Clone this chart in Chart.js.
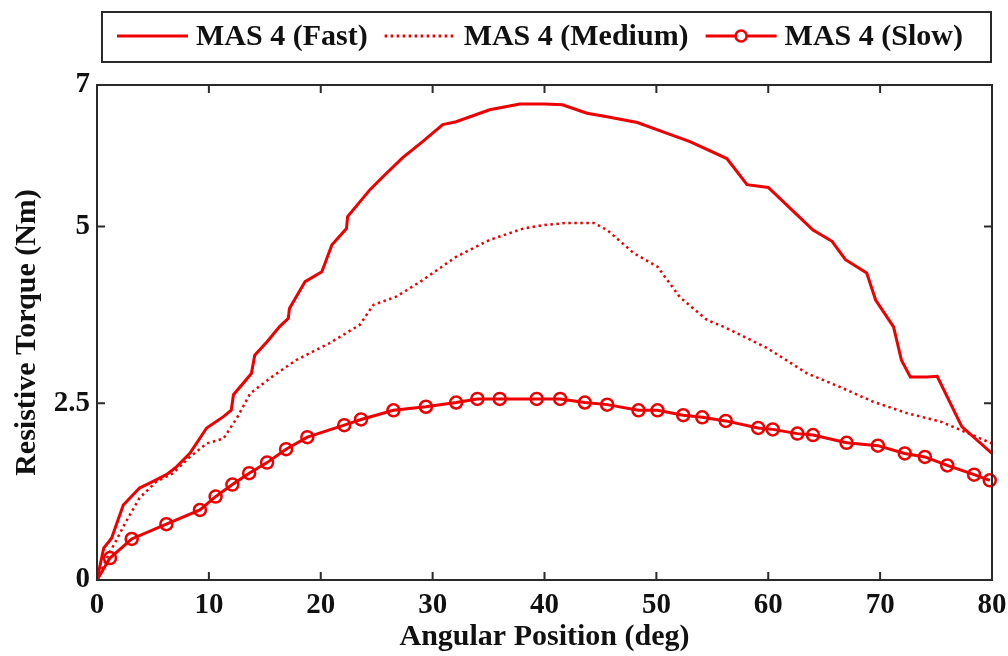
<!DOCTYPE html>
<html>
<head>
<meta charset="utf-8">
<script src="https://cdn.jsdelivr.net/npm/chart.js@4.4.1/dist/chart.umd.min.js"></script>
<style>
    html, body { margin: 0; padding: 0; background: #ffffff; }
    #torqueChart { display: block; }
</style>
</head>
<body>
<canvas id="torqueChart" width="1008" height="656"></canvas>
<script>
// Data (angle in deg, torque in Nm)
const seriesNames = ['MAS 4 (Fast)', 'MAS 4 (Medium)', 'MAS 4 (Slow)'];

const fastAngle = [0, 0.6, 1.3, 2.35, 3.8, 4.7, 6.2, 7.1, 8.3, 9.8, 11.3, 12.0, 12.2, 13.8, 14.1, 15.2, 16.3, 17.1, 17.2, 18.6,
    20.1, 21.0, 22.3, 22.4, 24.4, 25.6, 27.3, 29.1, 30.9, 32.1, 35.1, 37.8, 40, 41.6, 43.8, 45.6, 48.3, 50.9, 53.0, 56.3,
    58.1, 60.0, 62.6, 64.0, 65.7, 66.9, 68.8, 69.6, 71.2, 71.9, 72.7, 74.2, 75.1, 77.3, 80];
const fastTorque = [0, 0.45, 0.59, 1.06, 1.30, 1.37, 1.49, 1.60, 1.79, 2.15, 2.31, 2.40, 2.62, 2.92, 3.18, 3.37, 3.58, 3.70, 3.84, 4.22,
    4.36, 4.74, 4.97, 5.14, 5.52, 5.71, 5.97, 6.20, 6.44, 6.48, 6.65, 6.73, 6.73, 6.72, 6.60, 6.55, 6.47, 6.32, 6.20, 5.96,
    5.59, 5.55, 5.16, 4.95, 4.79, 4.53, 4.34, 3.96, 3.58, 3.11, 2.87, 2.87, 2.88, 2.17, 1.79];

const mediumAngle = [0, 1.0, 1.75, 2.5, 3.8, 5.3, 6.8, 8.3, 9.8, 11.3, 12.5, 13.7, 15.7, 17.8, 20.8, 23.5, 24.7, 26.8, 29.1, 32.1,
    35.1, 38.1, 40, 42.0, 44.4, 45.6, 48.0, 50.1, 52.1, 54.5, 56.3, 59.9, 63.5, 66.4, 69.4, 72.4, 75.4, 77.5, 80];
const mediumTorque = [0, 0.35, 0.57, 0.80, 1.16, 1.39, 1.51, 1.74, 1.93, 2.00, 2.29, 2.64, 2.88, 3.11, 3.35, 3.61, 3.89, 4.01, 4.24, 4.57,
    4.81, 4.97, 5.02, 5.05, 5.05, 4.95, 4.62, 4.43, 4.00, 3.68, 3.56, 3.28, 2.92, 2.73, 2.52, 2.36, 2.24, 2.10, 1.93];

const slowAngle = [0, 1.16, 3.1, 6.2, 9.2, 10.6, 12.1, 13.6, 15.2, 16.9, 18.8, 22.1, 23.6, 26.5, 29.4, 32.1, 34.0, 36.0, 39.3,
    41.4, 43.6, 45.6, 48.4, 50.1, 52.4, 54.1, 56.2, 59.1, 60.4, 62.6, 64.0, 67.0, 69.8, 72.2, 74.0, 76.0, 78.4, 79.8];
const slowTorque = [0, 0.31, 0.58, 0.79, 0.99, 1.18, 1.35, 1.51, 1.66, 1.85, 2.02, 2.19, 2.27, 2.40, 2.45, 2.51, 2.56, 2.56, 2.56,
    2.56, 2.51, 2.48, 2.40, 2.40, 2.33, 2.30, 2.25, 2.15, 2.13, 2.07, 2.05, 1.94, 1.90, 1.79, 1.74, 1.62, 1.49, 1.41];

const xTicks = [0, 10, 20, 30, 40, 50, 60, 70, 80];
const yTicks = [0, 2.5, 5, 7];

const RED = '#ee0000';
const FRAME = '#2a2a2a';
const FONT = '"Liberation Serif", "Times New Roman", serif';

const toPoints = (xs, ys) => xs.map((x, i) => ({ x: x, y: ys[i] }));

// box frame with inward ticks on all four sides
const framePlugin = {
    id: 'frame',
    afterDatasetsDraw(chart) {
        const { ctx, chartArea: a, scales } = chart;
        const len = 8;
        ctx.save();
        ctx.strokeStyle = FRAME;
        ctx.lineWidth = 2;
        ctx.strokeRect(a.left, a.top, a.right - a.left, a.bottom - a.top);
        ctx.beginPath();
        xTicks.forEach(v => {
            const px = scales.x.getPixelForValue(v);
            ctx.moveTo(px, a.bottom); ctx.lineTo(px, a.bottom - len);
            ctx.moveTo(px, a.top); ctx.lineTo(px, a.top + len);
        });
        yTicks.forEach(v => {
            const py = scales.y.getPixelForValue(v);
            ctx.moveTo(a.left, py); ctx.lineTo(a.left + len, py);
            ctx.moveTo(a.right, py); ctx.lineTo(a.right - len, py);
        });
        ctx.stroke();
        ctx.restore();
    }
};

// boxed legend above the plot, like the original figure
const boxLegend = {
    id: 'boxLegend',
    afterDraw(chart) {
        const ctx = chart.ctx;
        ctx.save();
        ctx.strokeStyle = FRAME;
        ctx.lineWidth = 2;
        ctx.strokeRect(102, 12, 889, 50);
        ctx.font = 'bold 30px ' + FONT;
        ctx.textBaseline = 'middle';
        ctx.fillStyle = '#111';
        const cy = 36;
        let x = 117;
        chart.data.datasets.forEach(ds => {
            ctx.strokeStyle = RED;
            ctx.lineWidth = 3;
            ctx.setLineDash(ds.borderDash || []);
            ctx.beginPath();
            ctx.moveTo(x, cy); ctx.lineTo(x + 71, cy);
            ctx.stroke();
            ctx.setLineDash([]);
            if (ds.label === seriesNames[2]) {
                ctx.lineWidth = 2.5;
                ctx.fillStyle = '#ffffff';
                ctx.beginPath();
                ctx.arc(x + 35.5, cy, 5.5, 0, Math.PI * 2);
                ctx.fill();
                ctx.stroke();
                ctx.fillStyle = '#111';
            }
            ctx.fillText(ds.label, x + 79, cy + 1);
            x += 79 + ctx.measureText(ds.label).width + 17;
        });
        ctx.restore();
    }
};

new Chart(document.getElementById('torqueChart'), {
    type: 'line',
    data: {
        datasets: [
            {
                label: seriesNames[0],
                data: toPoints(fastAngle, fastTorque),
                borderColor: RED,
                borderWidth: 3,
                pointRadius: 0,
                tension: 0
            },
            {
                label: seriesNames[1],
                data: toPoints(mediumAngle, mediumTorque),
                borderColor: RED,
                borderWidth: 2.5,
                borderDash: [2.5, 3.5],
                pointRadius: 0,
                tension: 0
            },
            {
                label: seriesNames[2],
                data: toPoints(slowAngle, slowTorque),
                borderColor: RED,
                borderWidth: 3,
                pointRadius: slowAngle.map((v, i) => i === 0 ? 0 : 6),
                pointBorderWidth: 2.5,
                pointBorderColor: RED,
                pointBackgroundColor: 'rgba(0,0,0,0)',
                tension: 0,
                clip: false
            }
        ]
    },
    options: {
        responsive: false,
        animation: false,
        layout: { padding: { top: 85, right: 16, left: 0, bottom: 0 } },
        plugins: {
            legend: { display: false },
            tooltip: { enabled: false }
        },
        scales: {
            x: {
                type: 'linear',
                min: 0,
                max: 80,
                grid: { display: false, drawTicks: false },
                border: { display: false },
                afterBuildTicks: s => { s.ticks = xTicks.map(v => ({ value: v })); },
                afterFit: s => { s.height = 76; s.paddingLeft = 0; s.paddingRight = 0; },
                ticks: {
                    color: '#111',
                    padding: 8,
                    maxRotation: 0,
                    font: { family: FONT, size: 29, weight: 'bold' }
                },
                title: {
                    display: true,
                    text: 'Angular Position (deg)',
                    color: '#111',
                    padding: { top: 0, bottom: 4 },
                    font: { family: FONT, size: 30, weight: 'bold', lineHeight: 1 }
                }
            },
            y: {
                min: 0,
                max: 7,
                grid: { display: false, drawTicks: false },
                border: { display: false },
                afterBuildTicks: s => { s.ticks = yTicks.map(v => ({ value: v })); },
                afterFit: s => { s.width = 97; s.paddingTop = 0; s.paddingBottom = 0; },
                ticks: {
                    color: '#111',
                    padding: 7,
                    callback: v => String(v),
                    font: { family: FONT, size: 29, weight: 'bold' }
                },
                title: {
                    display: true,
                    text: 'Resistive Torque (Nm)',
                    color: '#111',
                    padding: { top: 12, bottom: 0 },
                    font: { family: FONT, size: 30, weight: 'bold', lineHeight: 1 }
                }
            }
        }
    },
    plugins: [framePlugin, boxLegend]
});
</script>
</body>
</html>
